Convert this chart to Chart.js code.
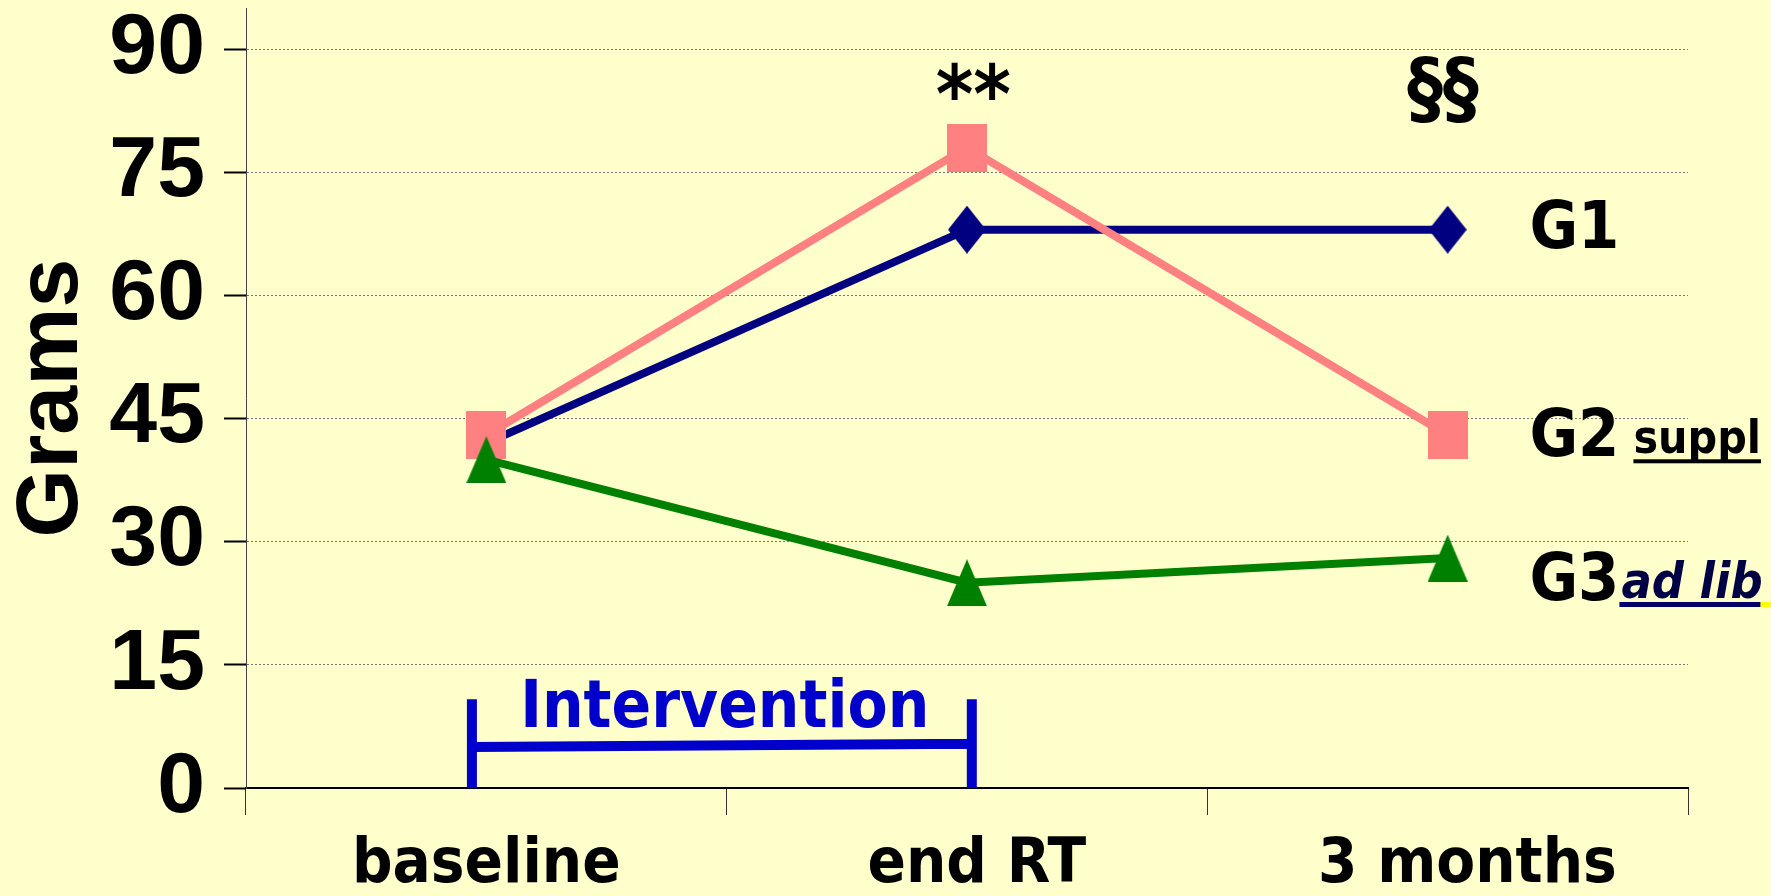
<!DOCTYPE html>
<html><head><meta charset="utf-8">
<script src="https://cdn.jsdelivr.net/npm/chart.js@4/dist/chart.umd.min.js"></script>
<style>html,body{margin:0;padding:0;background:#FFFFCC;} canvas{display:block;}</style>
</head><body>
<canvas id="c" width="1771" height="896"></canvas>
<script>
// ---- data ----
const categories = ['baseline', ' end RT', '  3 months'];
const g1Values = [42, 68, 68];
const g2Values = [43, 78, 43];
const g3Values = [40, 25, 28];
const yTickValues = [0, 15, 30, 45, 60, 75, 90];
const yMax = 95;
const seriesNames = ['G1', 'G2', 'G3'];
const seriesNotes = ['', 'suppl', 'ad lib'];
const seriesLabelValues = [65.8, 40.4, 22.9];
const markTexts = ['**', '§§'];
const markCats = [1.013, 1.99];
const markValues = [81.1, 82.0];
const interventionText = 'Intervention';
const interventionCats = [-0.03, 1.01];
const interventionValues = [5.0, 5.4];
const interventionBarTop = 10.8;
const interventionTextValue = 7.43;
const interventionTextCat = 0.496;

// ---- styles ----
const TAHOMA = "'DejaVu Sans Condensed', 'DejaVu Sans', sans-serif";
const ARIAL = "'Liberation Sans', Arial, sans-serif";
const BG = '#FFFFCC';

function markerCanvas(kind, w, h, color) {
  const c = document.createElement('canvas');
  c.width = w; c.height = h;
  const x = c.getContext('2d');
  x.fillStyle = color;
  x.beginPath();
  if (kind === 'square') { x.rect(0, 0, w, h); }
  else if (kind === 'diamond') { x.moveTo(w/2, 0); x.lineTo(w, h/2); x.lineTo(w/2, h); x.lineTo(0, h/2); x.closePath(); }
  else { x.moveTo(w/2, 0); x.lineTo(w, h); x.lineTo(0, h); x.closePath(); }
  x.fill();
  return c;
}
const diamondImg = markerCanvas('diamond', 38, 48, '#000080');
const squareImg = markerCanvas('square', 40, 48, '#FF8080');
const triangleImg = markerCanvas('triangle', 40, 47, '#008000');

const bgPlugin = {
  id: 'bg',
  beforeDraw(chart) {
    const ctx = chart.ctx;
    ctx.save();
    ctx.fillStyle = BG;
    ctx.fillRect(0, 0, chart.width, chart.height);
    ctx.restore();
  }
};

const annotPlugin = {
  id: 'annot',
  afterDatasetsDraw(chart) {
    const ctx = chart.ctx;
    const xs = chart.scales.x, ys = chart.scales.y;
    ctx.save();
    // intervention bracket
    const xl = xs.getPixelForValue(interventionCats[0]);
    const xr = xs.getPixelForValue(interventionCats[1]);
    const y0 = ys.getPixelForValue(0);
    const yt = ys.getPixelForValue(interventionBarTop);
    ctx.strokeStyle = '#0000CC';
    ctx.lineWidth = 10;
    ctx.lineCap = 'butt';
    ctx.beginPath();
    ctx.moveTo(xl, y0); ctx.lineTo(xl, yt);
    ctx.moveTo(xr, y0); ctx.lineTo(xr, yt);
    ctx.moveTo(xl, ys.getPixelForValue(interventionValues[0]));
    ctx.lineTo(xr, ys.getPixelForValue(interventionValues[1]));
    ctx.stroke();
    ctx.fillStyle = '#0000CC';
    ctx.font = 'bold 65px ' + TAHOMA;
    ctx.textAlign = 'center';
    ctx.textBaseline = 'alphabetic';
    ctx.fillText(interventionText, xs.getPixelForValue(interventionTextCat), ys.getPixelForValue(interventionTextValue));

    // significance marks
    ctx.fillStyle = '#000';
    ctx.font = 'bold 80px ' + TAHOMA;
    markTexts.forEach((t, i) => {
      ctx.fillText(t, xs.getPixelForValue(markCats[i]), ys.getPixelForValue(markValues[i]));
    });

    // series labels
    ctx.textAlign = 'left';
    const lx = xs.getPixelForValue(2.17);
    const gaps = [0, 14, 2];
    seriesNames.forEach((name, i) => {
      const by = ys.getPixelForValue(seriesLabelValues[i]);
      ctx.fillStyle = '#000';
      ctx.font = 'bold 66px ' + TAHOMA;
      ctx.fillText(name, lx, by);
      const w = ctx.measureText(name).width;
      const note = seriesNotes[i];
      if (!note) return;
      const nx = lx + w + gaps[i];
      if (i === 1) {
        ctx.font = 'bold 46px ' + TAHOMA;
        ctx.fillStyle = '#000';
        ctx.fillText(note, nx, by - 3);
        const nw = ctx.measureText(note).width;
        ctx.fillRect(nx, by + 3, nw, 4);
      } else {
        ctx.font = 'italic bold 50px ' + TAHOMA;
        ctx.fillStyle = '#000044';
        ctx.fillText(note, nx, by - 2);
        const nw = ctx.measureText(note).width;
        ctx.fillStyle = '#000066';
        ctx.fillRect(nx - 2, by + 2, nw, 5);
        ctx.fillStyle = '#FFFF00';
        ctx.fillRect(nx - 2 + nw, by + 2, 20, 5);
      }
    });
    ctx.restore();
  }
};

new Chart(document.getElementById('c'), {
  type: 'line',
  data: {
    labels: categories,
    datasets: [
      { label: 'G1', data: g1Values, borderColor: '#000080', backgroundColor: '#000080', borderWidth: 8,
        pointStyle: diamondImg, pointRadius: 20, order: 3, tension: 0 },
      { label: 'G2', data: g2Values, borderColor: '#FF8080', backgroundColor: '#FF8080', borderWidth: 8,
        pointStyle: squareImg, pointRadius: 20, order: 2, tension: 0 },
      { label: 'G3', data: g3Values, borderColor: '#008000', backgroundColor: '#008000', borderWidth: 8,
        pointStyle: triangleImg, pointRadius: 20, order: 1, tension: 0 }
    ]
  },
  options: {
    responsive: false,
    animation: false,
    devicePixelRatio: 1,
    layout: { autoPadding: false, padding: { top: 8, right: 83, left: 0, bottom: 0 } },
    plugins: { legend: { display: false }, tooltip: { enabled: false } },
    scales: {
      x: {
        offset: true,
        grid: { offset: true, drawOnChartArea: false, drawTicks: true, tickLength: 27, tickColor: '#333', tickWidth: 1 },
        border: { display: true, color: '#000', width: 2 },
        ticks: { font: { family: TAHOMA, size: 63, weight: 'bold' }, color: '#000', padding: 13, maxRotation: 0, autoSkip: false },
        afterFit(s) { s.height = 108; s.paddingLeft = 0; s.paddingRight = 0; }
      },
      y: {
        min: 0, max: yMax,
        afterBuildTicks(s) { s.ticks = yTickValues.map(v => ({ value: v })); },
        grid: {
          color: (c) => (c.tick && c.tick.value === 0) ? 'rgba(0,0,0,0)' : '#777',
          lineWidth: 1, drawTicks: true, tickLength: 22, tickColor: '#000', tickWidth: 2
        },
        border: { display: true, color: '#444', width: 1, dash: [2, 2] },
        ticks: { font: { family: ARIAL, size: 86, weight: 'bold' }, color: '#000', padding: 19 },
        title: { display: true, text: 'Grams', color: '#000', font: { family: ARIAL, size: 88, weight: 'bold' }, padding: { top: 0, bottom: 0 } },
        afterFit(s) { s.width = 246; s.paddingTop = 0; s.paddingBottom = 0; }
      }
    }
  },
  plugins: [bgPlugin, annotPlugin]
});
</script>
</body></html>
